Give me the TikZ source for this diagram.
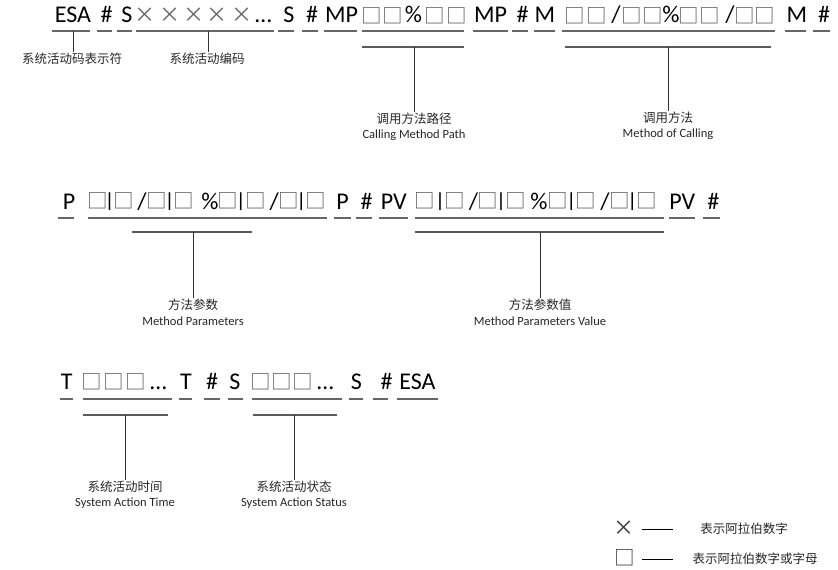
\documentclass[tikz,border=0pt]{standalone}
\usepackage{fontspec}
\setmainfont{Carlito}
\newfontfamily\cjk{Noto Sans CJK SC}
\newfontfamily\barfont{Liberation Sans}
\newcommand\slashch{/}
\newsavebox\tmpbx
% #1: height of the glyph's ink centre above the baseline, #2: glyph
\newcommand\vc[2]{\sbox\tmpbx{#2}\raisebox{\dimexpr #1-(\ht\tmpbx-\dp\tmpbx)/2\relax}{\usebox\tmpbx}}
% square | square group: #1 gap square->bar, #2 gap bar->square (centre to centre)
\newcommand\sqglyph{\makebox[0pt]{\cjk\fontsize{20.5}{20.5}\selectfont\color{black!65}\vc{8pt}{□}}}
\newcommand\sqbar[2]{\sqglyph\hspace*{#1pt}\makebox[0pt]{\barfont\fontsize{19}{19}\selectfont\vc{7pt}{|}}\hspace*{#2pt}\sqglyph}
\tikzset{
  tok/.style={anchor=base,inner sep=0pt,font=\fontsize{24}{24}\selectfont,text=black},
  grp/.style={anchor=base west,inner sep=0pt,text=black},
  sq/.style={anchor=base,inner sep=0pt,font=\cjk\fontsize{20.5}{20.5}\selectfont,text=black!65},
  cross/.style={anchor=base,inner sep=0pt,font=\cjk\fontsize{21}{21}\selectfont,text=black!60},
  ul/.style={draw=black!60,line width=1.4pt},
  hl/.style={draw=black!65,line width=1.3pt},
  conn/.style={draw=black!80,line width=1pt},
  lab/.style={inner sep=1pt,font=\cjk\fontsize{12.5}{14}\selectfont,text=black!85},
  elab/.style={inner sep=1pt,font=\fontsize{12.5}{14}\selectfont,text=black!85},
}
\begin{document}
\begin{tikzpicture}[x=1pt,y=-1pt]
\useasboundingbox (0,0) rectangle (838,570);
% ---------- row 1 ----------
\foreach \x/\t [count=\i] in {73/ESA,106.5/\#,127/S,263.5/…,289/S,312/\#,341.5/MP,413.5/\%,490.5/MP,522.5/\#,545/M,616/\slashch,671/\%,730/\slashch,797/M,824/\#}
  \node[tok] (ra\i) at (\x,23) {\t};
\foreach \x [count=\i] in {371.5,393,434.5,457,574.5,596.5,631.5,652.5,689,710,745,765}
  \node[sq] (rasq\i) at (\x,23) {\vc{7.5pt}{□}};
\foreach \x [count=\i] in {145,170,193.5,216.5,241.5}
  \node[cross] (rax\i) at (\x,23) {\vc{8pt}{×}};
\foreach \a/\b in {52/90,97/112,117/132,136/274,278/294,302/318,324/357,362/464,473/508,512/528,534/555,562/775,785/806,813/830}
  \draw[ul] (\a,31) -- (\b,31);
% ---------- row 2 ----------
\foreach \x/\t [count=\i] in {69/P,142/\slashch,210/\%,274.2/\slashch,342.5/P,366.7/\#,393.7/PV,473.6/\slashch,539/\%,605/\slashch,682.2/PV,713.3/\#}
  \node[tok] (rb\i) at (\x,209) {\t};
\foreach \x/\da/\db [count=\i] in {97.2/12.3/14.3,156.7/12.8/14.5,227.3/13.4/14.6,288.3/12.9/14.6,424.8/15/14.4,487.3/13.7/14.7,557.5/13.7/14.8,619.2/13/14.6}
  \node[grp] (rbg\i) at (\x,209) {\sqbar{\da}{\db}};
\foreach \a/\b in {58/74,88/327,334/351,356/372,379/408,415/664,669/695,703/720}
  \draw[ul] (\a,218) -- (\b,218);
% ---------- row 3 ----------
\foreach \x/\t [count=\i] in {66.7/T,158.3/…,186/T,212.2/\#,235/S,325.3/…,356.3/S,386.7/\#,417.5/ESA}
  \node[tok] (rc\i) at (\x,389) {\t};
\foreach \x [count=\i] in {91.7,113.3,135.7,260.3,281.7,302.3}
  \node[sq] (rcsq\i) at (\x,389) {\vc{7pt}{□}};
\foreach \a/\b in {60/73,83/172,179/192,204/220,228/243,252/342,349/363,373/388,397/438}
  \draw[ul] (\a,399) -- (\b,399);
% ---------- labels ----------
\node[lab] (L1) at (72,59) {系统活动码表示符};
\node[lab] (L2) at (207,59) {系统活动编码};
\node[lab] (L3) at (414,119) {调用方法路径};
\node[elab] (E3) at (414,135) {Calling Method Path};
\node[lab] (L4) at (668,118) {调用方法};
\node[elab] (E4) at (668,134) {Method of Calling};
\node[lab] (L5) at (193,305) {方法参数};
\node[elab] (E5) at (193,321) {Method Parameters};
\node[lab] (L6) at (540,305) {方法参数值};
\node[elab] (E6) at (540,321) {Method Parameters Value};
\node[lab] (L7) at (125,487) {系统活动时间};
\node[elab] (E7) at (125,503) {System Action Time};
\node[lab] (L8) at (294,487) {系统活动状态};
\node[elab] (E8) at (294,503) {System Action Status};
% ---------- brackets and connectors ----------
\coordinate (c1) at (73,31);
\coordinate (c2) at (208,31);
\draw[hl] (362,47) -- (464,47); \coordinate (c3) at (414,47);
\draw[hl] (565,47) -- (771,47); \coordinate (c4) at (668,47);
\draw[hl] (132,232) -- (252,232); \coordinate (c5) at (193,232);
\draw[hl] (415,232) -- (664,232); \coordinate (c6) at (540,232);
\draw[hl] (83,415) -- (168,415); \coordinate (c7) at (125,415);
\draw[hl] (253,415) -- (337,415); \coordinate (c8) at (294,415);
\foreach \i in {1,...,8}
  \draw[conn] (c\i) -- (c\i |- L\i.north);
% ---------- legend ----------
\node[cross,text=black!80] (kx) at (624,534) {\vc{6pt}{×}};
\node[sq,text=black!80] (ks) at (625,565) {\vc{7pt}{□}};
\node[lab] (kt1) at (744,529) {表示阿拉伯数字};
\node[lab] (kt2) at (755,559) {表示阿拉伯数字或字母};
\coordinate (k1a) at (642,529); \coordinate (k1b) at (673,529);
\coordinate (k2a) at (642,559); \coordinate (k2b) at (673,559);
\draw[conn,draw=black] (k1a) -- (k1b);
\draw[conn,draw=black] (k2a) -- (k2b);
\end{tikzpicture}
\end{document}
